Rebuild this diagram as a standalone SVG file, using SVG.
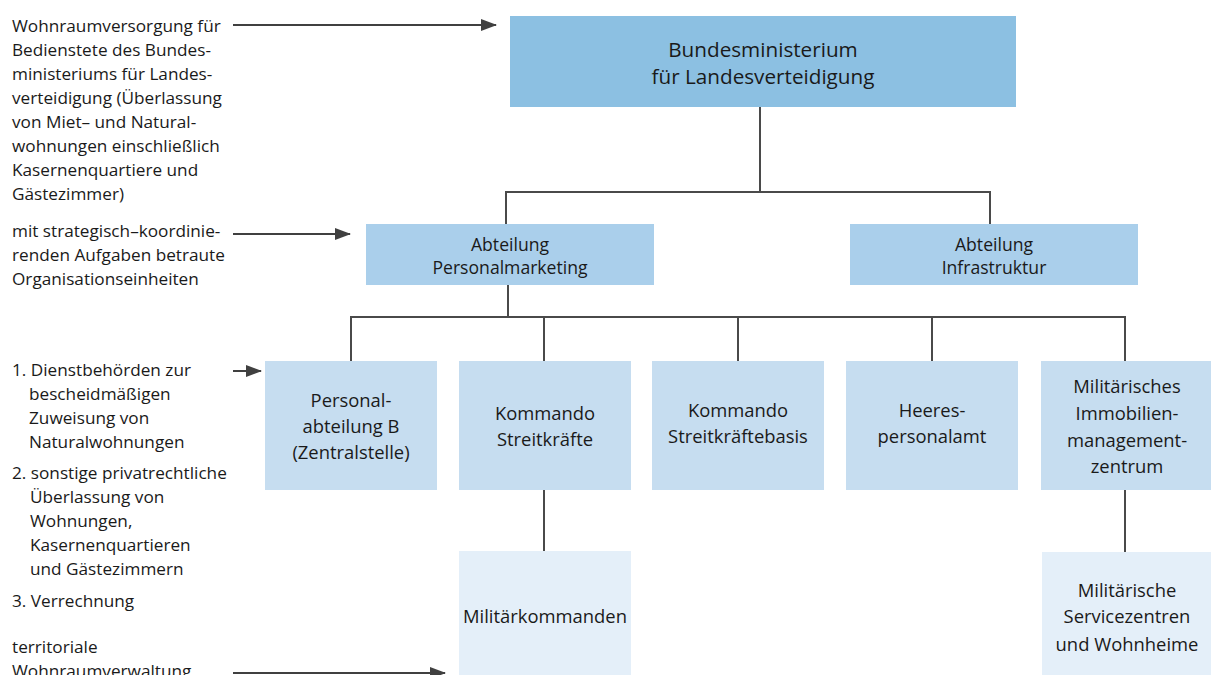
<svg xmlns="http://www.w3.org/2000/svg" width="1211" height="675" viewBox="0 0 1211 675">
<defs>
<marker id="ah" markerWidth="16" markerHeight="12" refX="15" refY="6" orient="auto" markerUnits="userSpaceOnUse" viewBox="0 0 16 12"><path d="M0,0 L16,6 L0,12 Z" fill="#404040"/></marker>
<style>
text{font-family:"Open Sans","Liberation Sans",sans-serif;fill:#1a1a1a}
.l{font-size:17.2px}
.b{font-size:18.4px;text-anchor:middle}
.s{font-size:17.6px;text-anchor:middle}
.t{font-size:20.7px;text-anchor:middle}
.c{stroke:#4a4a4a;stroke-width:2;fill:none}
.a{stroke:#404040;stroke-width:2;fill:none;marker-end:url(#ah)}
.n0{fill:#8cc0e2}.n1{fill:#aacfeb}.n2{fill:#c6ddf0}.n3{fill:#e4eff9}
</style>
</defs>
<rect width="1211" height="675" fill="#fff"/>
<g id="connectors">
<path class="c" d="M760,107 V192 M506,192 H990 M506,191 V224 M990,191 V224"/>
<path class="c" d="M508,285 V317 M350,317 H1125 M351,316 V361 M544,316 V361 M738,316 V361 M932,316 V361 M1125,316 V361"/>
<path class="c" d="M544,489 V551 M1125,489 V552"/>
<path class="a" d="M233,25 H496"/>
<path class="a" d="M233,234 H350"/>
<path class="a" d="M233,371 H261"/>
<path class="a" d="M233,673 H445"/>
</g>
<g id="notes">
<text class="l" x="12" y="32">Wohnraumversorgung für</text>
<text class="l" x="12" y="56">Bedienstete des Bundes-</text>
<text class="l" x="12" y="80">ministeriums für Landes-</text>
<text class="l" x="12" y="104">verteidigung (Überlassung</text>
<text class="l" x="12" y="128">von Miet– und Natural-</text>
<text class="l" x="12" y="152">wohnungen einschließlich</text>
<text class="l" x="12" y="176">Kasernenquartiere und</text>
<text class="l" x="12" y="200">Gästezimmer)</text>
<text class="l" x="12" y="237">mit strategisch–koordinie-</text>
<text class="l" x="12" y="261">renden Aufgaben betraute</text>
<text class="l" x="12" y="285">Organisationseinheiten</text>
<text class="l" x="12" y="376">1. Dienstbehörden zur</text>
<text class="l" x="29" y="400">bescheidmäßigen</text>
<text class="l" x="29" y="424">Zuweisung von</text>
<text class="l" x="29" y="448">Naturalwohnungen</text>
<text class="l" x="12" y="479">2. sonstige privatrechtliche</text>
<text class="l" x="30" y="503">Überlassung von</text>
<text class="l" x="30" y="527">Wohnungen,</text>
<text class="l" x="30" y="551">Kasernenquartieren</text>
<text class="l" x="30" y="575">und Gästezimmern</text>
<text class="l" x="12" y="607">3. Verrechnung</text>
<text class="l" x="12" y="653">territoriale</text>
<text class="l" x="12" y="677">Wohnraumverwaltung</text>
</g>
<g id="bmlv"><rect class="n0" x="510" y="16" width="506" height="91"/>
<text class="t" x="763" y="57">Bundesministerium</text><text class="t" x="763" y="84">für Landesverteidigung</text></g>
<g id="abt-personal"><rect class="n1" x="366" y="224" width="288" height="61"/>
<text class="s" x="510" y="251">Abteilung</text><text class="s" x="510" y="274">Personalmarketing</text></g>
<g id="abt-infra"><rect class="n1" x="850" y="224" width="288" height="61"/>
<text class="s" x="994" y="251">Abteilung</text><text class="s" x="994" y="274">Infrastruktur</text></g>
<g id="persb"><rect class="n2" x="265" y="361" width="172" height="129"/>
<text class="b" x="351" y="407">Personal-</text><text class="b" x="351" y="433">abteilung B</text><text class="b" x="351" y="459">(Zentralstelle)</text></g>
<g id="kdo-sk"><rect class="n2" x="459" y="361" width="172" height="129"/>
<text class="b" x="545" y="420">Kommando</text><text class="b" x="545" y="446">Streitkräfte</text></g>
<g id="kdo-skb"><rect class="n2" x="652" y="361" width="172" height="129"/>
<text class="b" x="738" y="417">Kommando</text><text class="b" x="738" y="443">Streitkräftebasis</text></g>
<g id="hpa"><rect class="n2" x="846" y="361" width="172" height="129"/>
<text class="b" x="932" y="417">Heeres-</text><text class="b" x="932" y="443">personalamt</text></g>
<g id="mimz"><rect class="n2" x="1041" y="361" width="172" height="129"/>
<text class="b" x="1127" y="393">Militärisches</text><text class="b" x="1127" y="420">Immobilien-</text><text class="b" x="1127" y="447">management-</text><text class="b" x="1127" y="473">zentrum</text></g>
<g id="milkdo"><rect class="n3" x="459" y="551" width="172" height="124"/>
<text class="b" x="545" y="623">Militärkommanden</text></g>
<g id="msz"><rect class="n3" x="1042" y="552" width="171" height="123"/>
<text class="b" x="1127" y="597">Militärische</text><text class="b" x="1127" y="623">Servicezentren</text><text class="b" x="1127" y="651">und Wohnheime</text></g>
</svg>
